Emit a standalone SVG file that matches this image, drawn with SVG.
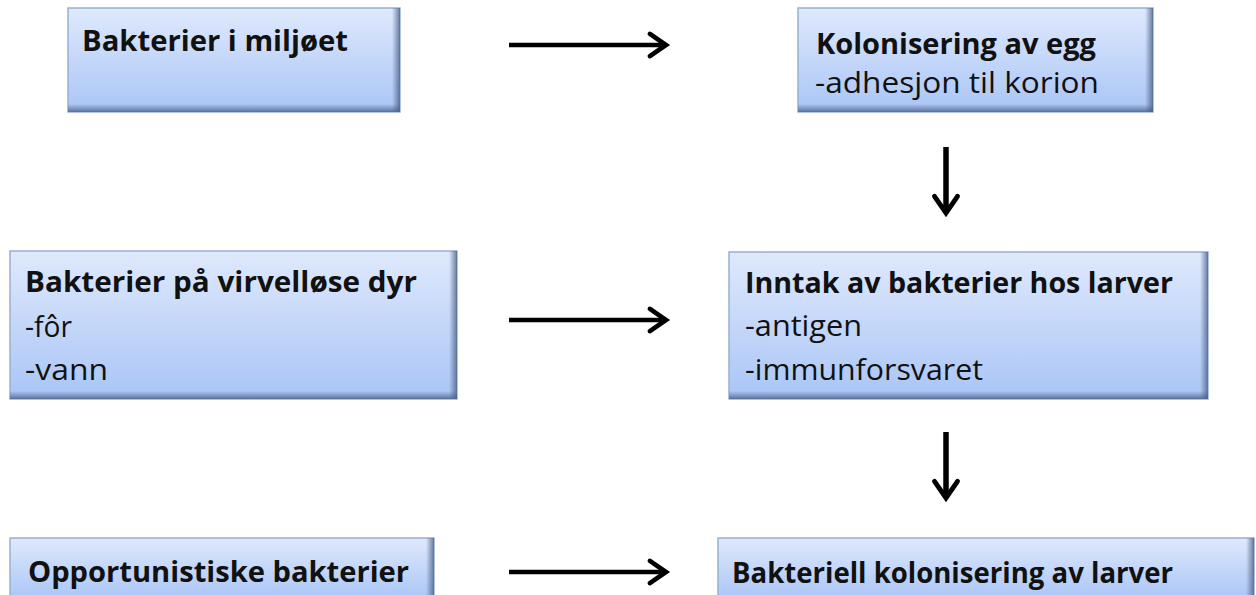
<svg xmlns="http://www.w3.org/2000/svg" width="1256" height="595" viewBox="0 0 1256 595">
  <defs>
    <linearGradient id="fill" x1="0" y1="0" x2="0" y2="1">
      <stop offset="0" stop-color="#dfe9fc"/>
      <stop offset="1" stop-color="#a9c5f6"/>
    </linearGradient>
    <linearGradient id="shB" x1="0" y1="0" x2="0" y2="1">
      <stop offset="0" stop-color="#4a5f86" stop-opacity="0"/>
      <stop offset="1" stop-color="#4a5f86" stop-opacity="0.8"/>
    </linearGradient>
    <linearGradient id="shR" x1="0" y1="0" x2="1" y2="0">
      <stop offset="0" stop-color="#4a5f86" stop-opacity="0"/>
      <stop offset="1" stop-color="#4a5f86" stop-opacity="0.8"/>
    </linearGradient>
    <marker id="ah" viewBox="0 0 10 10" refX="8" refY="5" markerWidth="6.5" markerHeight="6.5" orient="auto" markerUnits="strokeWidth">
      <path d="M2.5,1.2 L8,5 L2.5,8.8" fill="none" stroke="#000" stroke-width="1.6" stroke-linecap="round" stroke-linejoin="miter"/>
    </marker>
    <marker id="ahv" viewBox="0 0 10 10" refX="8" refY="5" markerWidth="5.5" markerHeight="5.5" orient="auto" markerUnits="strokeWidth">
      <path d="M2.5,1.2 L8,5 L2.5,8.8" fill="none" stroke="#000" stroke-width="1.6" stroke-linecap="round" stroke-linejoin="miter"/>
    </marker>
  </defs>
  <style>
    .box { fill: url(#fill); stroke: #98b0d4; stroke-width: 1.5; }
    .sb { fill: url(#shB); }
    .sr { fill: url(#shR); }
    .t { font-family: "Open Sans", "Liberation Sans", sans-serif; font-size: 29px; fill: #111; }
    .b { font-weight: bold; }
    .arr { stroke: #000; stroke-width: 4.5; fill: none; marker-end: url(#ah); }
    .arrv { stroke: #000; stroke-width: 5.5; fill: none; marker-end: url(#ahv); }
  </style>
  <rect width="1256" height="595" fill="#fff"/>

  <g id="n1">
    <rect class="box" x="68" y="8" width="332" height="104"/>
    <rect class="sb" x="68" y="104" width="332" height="8"/>
    <rect class="sr" x="392" y="8" width="8" height="104"/>
    <text class="t b" x="82" y="51" textLength="266" lengthAdjust="spacingAndGlyphs">Bakterier i miljøet</text>
  </g>

  <g id="n2">
    <rect class="box" x="798" y="8" width="355" height="104"/>
    <rect class="sb" x="798" y="104" width="355" height="8"/>
    <rect class="sr" x="1145" y="8" width="8" height="104"/>
    <text class="t b" x="816" y="54" textLength="280" lengthAdjust="spacingAndGlyphs">Kolonisering av egg</text>
    <text class="t" x="815" y="93" textLength="284" lengthAdjust="spacingAndGlyphs">-adhesjon til korion</text>
  </g>

  <g id="n3">
    <rect class="box" x="10" y="251" width="447" height="148"/>
    <rect class="sb" x="10" y="391" width="447" height="8"/>
    <rect class="sr" x="449" y="251" width="8" height="148"/>
    <text class="t b" x="25" y="292" textLength="392" lengthAdjust="spacingAndGlyphs">Bakterier på virvelløse dyr</text>
    <text class="t" x="25" y="337" textLength="47" lengthAdjust="spacingAndGlyphs">-fôr</text>
    <text class="t" x="25" y="380" textLength="83" lengthAdjust="spacingAndGlyphs">-vann</text>
  </g>

  <g id="n4">
    <rect class="box" x="729" y="252" width="479" height="147"/>
    <rect class="sb" x="729" y="391" width="479" height="8"/>
    <rect class="sr" x="1200" y="252" width="8" height="147"/>
    <text class="t b" x="745" y="293" textLength="428" lengthAdjust="spacingAndGlyphs">Inntak av bakterier hos larver</text>
    <text class="t" x="745" y="336" textLength="117" lengthAdjust="spacingAndGlyphs">-antigen</text>
    <text class="t" x="745" y="380" textLength="238" lengthAdjust="spacingAndGlyphs">-immunforsvaret</text>
  </g>

  <g id="n5">
    <rect class="box" x="10" y="538" width="424" height="62"/>
    <rect class="sr" x="426" y="538" width="8" height="62"/>
    <text class="t b" x="28" y="582" textLength="381" lengthAdjust="spacingAndGlyphs">Opportunistiske bakterier</text>
  </g>

  <g id="n6">
    <rect class="box" x="718" y="538" width="536" height="62"/>
    <rect class="sr" x="1246" y="538" width="8" height="62"/>
    <text class="t b" x="732" y="583" textLength="441" lengthAdjust="spacingAndGlyphs">Bakteriell kolonisering av larver</text>
  </g>

  <g id="connectors">
    <line class="arr" x1="509" y1="45" x2="666" y2="45"/>
    <line class="arr" x1="509" y1="320" x2="666" y2="320"/>
    <line class="arr" x1="509" y1="572" x2="666" y2="572"/>
    <line class="arrv" x1="946" y1="147" x2="946" y2="213"/>
    <line class="arrv" x1="946" y1="432" x2="946" y2="498"/>
  </g>
</svg>
